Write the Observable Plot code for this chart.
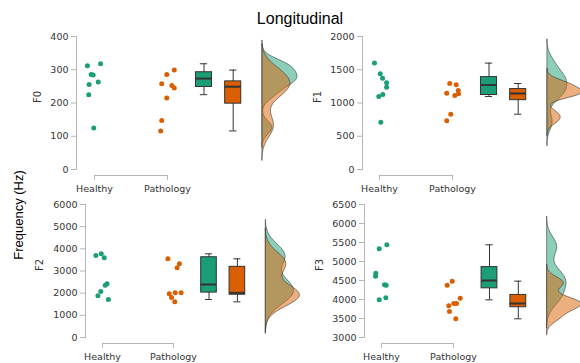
<!DOCTYPE html>
<html><head><meta charset="utf-8">
<script src="https://cdn.jsdelivr.net/npm/d3@7"></script>
<script src="https://cdn.jsdelivr.net/npm/@observablehq/plot@0.6"></script>
<style>
html,body{margin:0;padding:0;background:#fff;}
#wrap{position:relative;width:580px;height:363px;overflow:hidden;background:#fff;}
.panel{position:absolute;}
#title{position:absolute;left:0;width:600px;top:10px;text-align:center;font:16px "Liberation Sans",Arial,sans-serif;color:#000;line-height:18px;}
#ylab{position:absolute;left:18px;top:215px;transform:translate(-50%,-50%) rotate(-90deg);font:13px "Liberation Sans",Arial,sans-serif;white-space:nowrap;color:#000;}
</style></head><body>
<div id="wrap"><div id="title">Longitudinal</div><div id="ylab">Frequency (Hz)</div></div>
<script>
// ---- data ----
const groups = ["Healthy", "Pathology"];
const formants = ["F0", "F1", "F2", "F3"];

const f0Healthy   = [312, 318, 286, 284, 256, 263, 225, 125];
const f0Pathology = [286, 299, 258, 253, 245, 215, 147, 116];
const f1Healthy   = [1600, 1439, 1373, 1304, 1238, 1128, 1098, 712];
const f1Pathology = [1293, 1274, 1188, 1148, 1138, 1113, 832, 732];
const f2Healthy   = [3699, 3774, 3594, 2421, 2361, 2075, 1880, 1714];
const f2Pathology = [3549, 3323, 3143, 1970, 2015, 2015, 1804, 1609];
const f3Healthy   = [5334, 5439, 4693, 4614, 4386, 4377, 3991, 4044];
const f3Pathology = [4483, 4377, 4035, 3895, 3895, 3834, 3684, 3492];

// horizontal jitter of each point (in category units)
const f0HealthyJitter   = [-0.097, 0.083, -0.046, -0.018, -0.074, 0.051, -0.079, -0.010];
const f0PathologyJitter = [-0.010, 0.093, -0.079, 0.060, 0.093, -0.010, -0.079, -0.093];
const f1HealthyJitter   = [-0.069, 0.010, 0.042, 0.097, 0.097, 0.046, -0.010, 0.018];
const f1PathologyJitter = [-0.038, 0.051, 0.079, -0.079, 0.083, 0.032, -0.024, -0.079];
const f2HealthyJitter   = [-0.093, -0.018, 0.024, 0.065, 0.038, -0.024, -0.065, 0.083];
const f2PathologyJitter = [-0.079, 0.083, 0.051, -0.060, 0.024, 0.107, -0.028, 0.018];
const f3HealthyJitter   = [-0.032, 0.074, -0.079, -0.083, 0.042, 0.065, -0.032, 0.060];
const f3PathologyJitter = [-0.018, -0.088, 0.093, 0.004, 0.042, -0.065, -0.056, 0.032];

const f0Ticks = [0, 100, 200, 300, 400];
const f1Ticks = [0, 500, 1000, 1500, 2000];
const f2Ticks = [0, 1000, 2000, 3000, 4000, 5000, 6000];
const f3Ticks = [3000, 3500, 4000, 4500, 5000, 5500, 6000, 6500];

// ---- styling / layout ----
const colors = ["#1b9e77", "#d95f02"];
const axisGray = "#b5b5b5";
const dark = "#333333";
const boxPos = [2.5, 2.9];
const violinBase = 3.3;
const violinWidth = 0.48;
const boxHalf = 0.11, capHalf = 0.05;

const panels = [
  {name: "F0", h: f0Healthy, p: f0Pathology, hj: f0HealthyJitter, pj: f0PathologyJitter, ticks: f0Ticks,
   left: 0, top: 0, width: 290, height: 200, ml: 76, mt: 36, mb: 31, xr: [94, 167], lab: 39},
  {name: "F1", h: f1Healthy, p: f1Pathology, hj: f1HealthyJitter, pj: f1PathologyJitter, ticks: f1Ticks,
   left: 290, top: 0, width: 290, height: 200, ml: 72, mt: 36, mb: 31, xr: [89, 162], lab: 45},
  {name: "F2", h: f2Healthy, p: f2Pathology, hj: f2HealthyJitter, pj: f2PathologyJitter, ticks: f2Ticks,
   left: 0, top: 175, width: 290, height: 188, ml: 85, mt: 29, mb: 26, xr: [102, 173], lab: 46},
  {name: "F3", h: f3Healthy, p: f3Pathology, hj: f3HealthyJitter, pj: f3PathologyJitter, ticks: f3Ticks,
   left: 290, top: 175, width: 290, height: 188, ml: 74, mt: 29, mb: 26, xr: [91, 163], lab: 45}
];

function nrd0(v) {
  const s = d3.deviation(v);
  const iqr = d3.quantile(v, 0.75) - d3.quantile(v, 0.25);
  let lo = Math.min(s, iqr / 1.34);
  if (!(lo > 0)) lo = s || 1;
  return 0.9 * lo * Math.pow(v.length, -0.2);
}
function kde(v) {
  const bw = nrd0(v);
  const lo = d3.min(v) - 3 * bw, hi = d3.max(v) + 3 * bw;
  const n = 160, out = [];
  for (let i = 0; i <= n; i++) {
    const y = lo + (hi - lo) * i / n;
    let s = 0;
    for (const x of v) { const z = (y - x) / bw; s += Math.exp(-0.5 * z * z); }
    out.push({v: y, d: s / (v.length * bw * Math.sqrt(2 * Math.PI))});
  }
  return out;
}
function boxStats(v, pos, color) {
  const s = v.slice().sort(d3.ascending);
  const q1 = d3.quantile(s, 0.25), q3 = d3.quantile(s, 0.75), med = d3.quantile(s, 0.5);
  const iqr = q3 - q1;
  const lo = d3.min(s.filter(x => x >= q1 - 1.5 * iqr));
  const hi = d3.max(s.filter(x => x <= q3 + 1.5 * iqr));
  return {pos, q1, q3, med, lo, hi, color};
}

const wrap = document.getElementById("wrap");
for (const P of panels) {
  const kH = kde(P.h), kP = kde(P.p);
  const dmax = Math.max(d3.max(kH, d => d.d), d3.max(kP, d => d.d));
  const k = violinWidth / dmax;
  const stats = [boxStats(P.h, boxPos[0], colors[0]), boxStats(P.p, boxPos[1], colors[1])];
  const pts = [
    ...P.h.map((v, i) => ({g: 0, v, j: P.hj[i]})),
    ...P.p.map((v, i) => ({g: 1, v, j: P.pj[i]}))
  ];
  const y0 = P.ticks[0], y1 = P.ticks[P.ticks.length - 1];
  const chart = Plot.plot({
    width: P.width, height: P.height,
    marginLeft: P.ml, marginTop: P.mt, marginBottom: P.mb, marginRight: 0,
    style: {background: "transparent", fontFamily: "'DejaVu Sans', sans-serif", fontSize: "9.5px", color: dark, overflow: "visible"},
    x: {domain: [1, 2], range: P.xr},
    y: {domain: [y0, y1]},
    marks: [
      Plot.frame({anchor: "left", stroke: axisGray}),
      Plot.axisY({ticks: P.ticks, tickFormat: d => String(d), tickSize: 5, tickPadding: 3, stroke: axisGray, fill: dark, label: null}),
      Plot.ruleY([y0], {x1: 1, x2: 2, dy: 6, stroke: axisGray}),
      Plot.axisX({ticks: [1, 2], tickFormat: d => groups[d - 1], tickSize: 5, tickPadding: 5, dy: 6, stroke: axisGray, fill: dark, label: null}),
      Plot.text([P.name], {frameAnchor: "left", dx: -P.lab, rotate: -90, text: d => d, fontSize: 10, fill: dark}),
      // half violins
      Plot.areaX(kH, {y: "v", x1: () => violinBase, x2: d => violinBase + d.d * k, fill: colors[0], fillOpacity: 0.5, stroke: dark, strokeWidth: 0.6, curve: "basis"}),
      Plot.areaX(kP, {y: "v", x1: () => violinBase, x2: d => violinBase + d.d * k, fill: colors[1], fillOpacity: 0.5, stroke: dark, strokeWidth: 0.6, curve: "basis"}),
      // boxes
      Plot.ruleX(stats, {x: "pos", y1: "lo", y2: "hi", stroke: dark, strokeWidth: 1}),
      Plot.ruleY(stats, {y: "lo", x1: d => d.pos - capHalf, x2: d => d.pos + capHalf, stroke: dark, strokeWidth: 1}),
      Plot.ruleY(stats, {y: "hi", x1: d => d.pos - capHalf, x2: d => d.pos + capHalf, stroke: dark, strokeWidth: 1}),
      Plot.rect(stats, {x1: d => d.pos - boxHalf, x2: d => d.pos + boxHalf, y1: "q1", y2: "q3", fill: "color", stroke: dark, strokeWidth: 1}),
      Plot.ruleY(stats, {y: "med", x1: d => d.pos - boxHalf, x2: d => d.pos + boxHalf, stroke: dark, strokeWidth: 2}),
      // points
      Plot.dot(pts, {x: d => d.g + 1 + d.j, y: "v", r: 2.5, fill: d => colors[d.g], stroke: null})
    ]
  });
  chart.classList.add("panel");
  chart.style.left = P.left + "px";
  chart.style.top = P.top + "px";
  chart.style.position = "absolute";
  wrap.appendChild(chart);
}
</script>
</body></html>
